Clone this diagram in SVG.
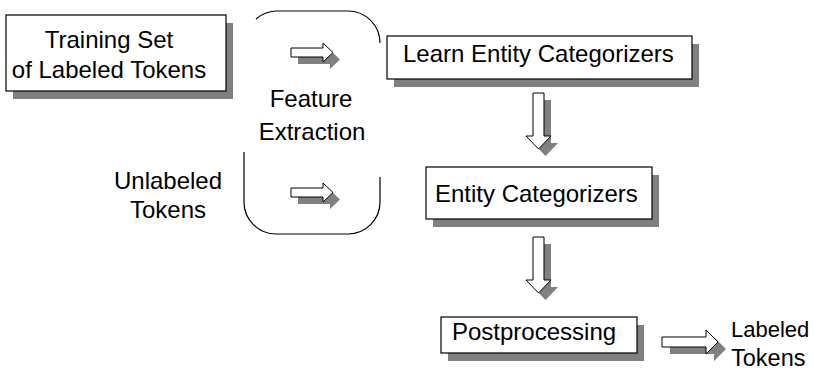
<svg xmlns="http://www.w3.org/2000/svg" width="814" height="373" viewBox="0 0 814 373">
<style>
.box{fill:#fff;stroke:#000;stroke-width:1.2}
.shadow{fill:#808080;stroke:none}
.arrow{fill:#fff;stroke:#000;stroke-width:1}
.t{font-family:"Liberation Sans",Arial,sans-serif;font-size:24px;fill:#000}
.m{text-anchor:middle}
.line{fill:none;stroke:#000;stroke-width:1.2}
</style>
<defs>
<polygon id="rarr" points="0,0 32,0 32,-5 42,4.5 32,14 32,9 0,9"/>
<polygon id="darr" points="0,0 11,0 11,43 18,43 5.5,56 -7,43 0,43"/>
</defs>
<rect width="814" height="373" fill="#fff"/>

<g id="training">
<rect class="shadow" x="13" y="23" width="220" height="76"/>
<rect class="box" x="6" y="15" width="220" height="76"/>
<text class="t m" x="109" y="48">Training Set</text>
<text class="t m" x="109" y="78">of Labeled Tokens</text>
</g>

<g id="feature">
<path class="line" d="M256 19 A32 32 0 0 1 276 11 L348 11 A32 32 0 0 1 380 43"/>
<path class="line" d="M244 152 L244 202 A32 32 0 0 0 276 234 L348 234 A32 32 0 0 0 380 202 L380 177"/>
<text class="t m" x="311" y="107">Feature</text>
<text class="t m" x="312" y="140">Extraction</text>
</g>

<g id="unlabeled">
<text class="t m" x="168" y="189">Unlabeled</text>
<text class="t m" x="168" y="218">Tokens</text>
</g>

<g id="learn">
<rect class="shadow" x="394" y="44" width="305" height="43"/>
<rect class="box" x="387" y="36" width="305" height="43"/>
<text class="t" x="403" y="62">Learn Entity Categorizers</text>
</g>

<g id="categorizers">
<rect class="shadow" x="433" y="175" width="226" height="52"/>
<rect class="box" x="426" y="167" width="226" height="52"/>
<text class="t" x="435" y="202">Entity Categorizers</text>
</g>

<g id="post">
<rect class="shadow" x="448" y="325" width="196" height="36"/>
<rect class="box" x="441" y="317" width="196" height="36"/>
<text class="t" x="452" y="340">Postprocessing</text>
</g>

<g id="output">
<text class="t" x="731" y="337" style="font-size:22px">Labeled</text>
<text class="t" x="731" y="366" style="font-size:23.5px">Tokens</text>
</g>

<g id="connectors">
<use href="#rarr" class="shadow" x="298" y="55"/>
<use href="#rarr" class="arrow" x="291" y="48"/>
<use href="#rarr" class="shadow" x="298" y="195"/>
<use href="#rarr" class="arrow" x="291" y="188"/>
<use href="#darr" class="shadow" x="540" y="100"/>
<use href="#darr" class="arrow" x="533" y="93"/>
<use href="#darr" class="shadow" x="540" y="244"/>
<use href="#darr" class="arrow" x="533" y="237"/>
<polygon class="shadow" points="670,344 714,344 714,337 726,349 714,361 714,354 670,354"/>
<polygon class="arrow" points="662,337 706,337 706,330 718,342 706,354 706,347 662,347"/>
</g>
</svg>
